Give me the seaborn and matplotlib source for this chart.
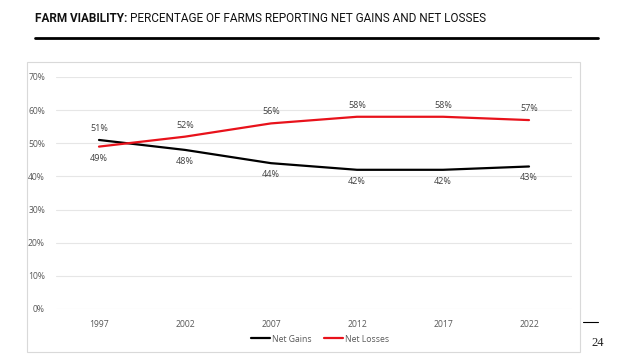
import pandas as pd
import matplotlib.pyplot as plt
import seaborn as sns
from matplotlib.patches import Rectangle
from matplotlib.lines import Line2D

# Data
years = ['1997', '2002', '2007', '2012', '2017', '2022']
net_gains = [51, 48, 44, 42, 42, 43]
net_losses = [49, 52, 56, 58, 58, 57]

df = pd.DataFrame({
    'Year': years * 2,
    'Value': [v / 100 for v in net_gains + net_losses],
    'Series': ['Net Gains'] * len(years) + ['Net Losses'] * len(years),
})

sns.set_theme(style='white')
plt.rcParams['font.family'] = ['Open Sans', 'DejaVu Sans']

fig = plt.figure(figsize=(6.4, 3.6), dpi=100)
fig.patch.set_facecolor('white')

# Light frame around the chart area
fig.patches.append(Rectangle((27 / 640, 1 - 352 / 360), (580 - 27) / 640, (352 - 62) / 360,
                             transform=fig.transFigure, fill=False, edgecolor='#d9d9d9', linewidth=0.8))

ax = fig.add_axes([56 / 640, 1 - 309 / 360, (572 - 56) / 640, (309 - 77) / 360])

palette = {'Net Gains': '#000000', 'Net Losses': '#e8121b'}
sns.lineplot(data=df, x='Year', y='Value', hue='Series', palette=palette,
             linewidth=1.6, ax=ax, legend=False, sort=False)

ax.set_xlim(-0.5, len(years) - 0.5)
ax.set_ylim(0, 0.7)
ax.set_yticks([i / 10 for i in range(8)])
ax.set_yticklabels([f'{i * 10}%' for i in range(8)])
ax.grid(axis='y', color='#e6e6e6', linewidth=0.8)
ax.set_axisbelow(True)
for s in ax.spines.values():
    s.set_visible(False)
ax.tick_params(axis='both', length=0, labelsize=6.2, labelcolor='#595959', pad=8)
ax.set_xlabel('')
ax.set_ylabel('')

# Data labels
for i, (g, l) in enumerate(zip(net_gains, net_losses)):
    g_up = i == 0
    ax.annotate(f'{g}%', (i, g / 100), xytext=(0, 5 if g_up else -5), textcoords='offset points',
                ha='center', va='bottom' if g_up else 'top', fontsize=6.5, color='#404040')
    ax.annotate(f'{l}%', (i, l / 100), xytext=(0, -5 if g_up else 5), textcoords='offset points',
                ha='center', va='top' if g_up else 'bottom', fontsize=6.5, color='#404040')

# Legend at bottom
handles = [Line2D([], [], color=palette[k], linewidth=1.6) for k in palette]
fig.legend(handles, list(palette.keys()), loc='center', bbox_to_anchor=(320 / 640, 1 - 339 / 360),
           ncol=2, frameon=False, fontsize=6.2, handlelength=2.2, handletextpad=0.2,
           columnspacing=1.5, labelcolor='#595959')

# Title, sized to span roughly the same width as the reference
title_font = ['Roboto', 'DejaVu Sans']
title_y = 1 - 18 / 360
t1 = fig.text(35 / 640, title_y, 'FARM VIABILITY:', fontsize=10, fontweight='bold',
              family=title_font, va='center', ha='left', color='#111111')
t2 = fig.text(0, title_y, 'PERCENTAGE OF FARMS REPORTING NET GAINS AND NET LOSSES',
              fontsize=10, family=title_font, va='center', ha='left', color='#111111')
fig.canvas.draw()
r = fig.canvas.get_renderer()
w = t1.get_window_extent(r).width + 4 + t2.get_window_extent(r).width
size = 10 * 450 / w
t1.set_fontsize(size)
t2.set_fontsize(size)
fig.canvas.draw()
t2.set_x((t1.get_window_extent(r).x1 + 3) / 640)
fig.add_artist(Line2D([35 / 640, 598 / 640], [1 - 38 / 360, 1 - 38 / 360],
                      transform=fig.transFigure, color='black', linewidth=2))

# Page number
fig.add_artist(Line2D([583 / 640, 598 / 640], [1 - 322 / 360, 1 - 322 / 360],
                      transform=fig.transFigure, color='black', linewidth=0.8))
fig.text(598 / 640, 1 - 343 / 360, '24', fontsize=9, family=['Liberation Serif', 'DejaVu Serif'],
         ha='center', va='center', color='#222222')

fig.savefig('out.png', dpi=100)
